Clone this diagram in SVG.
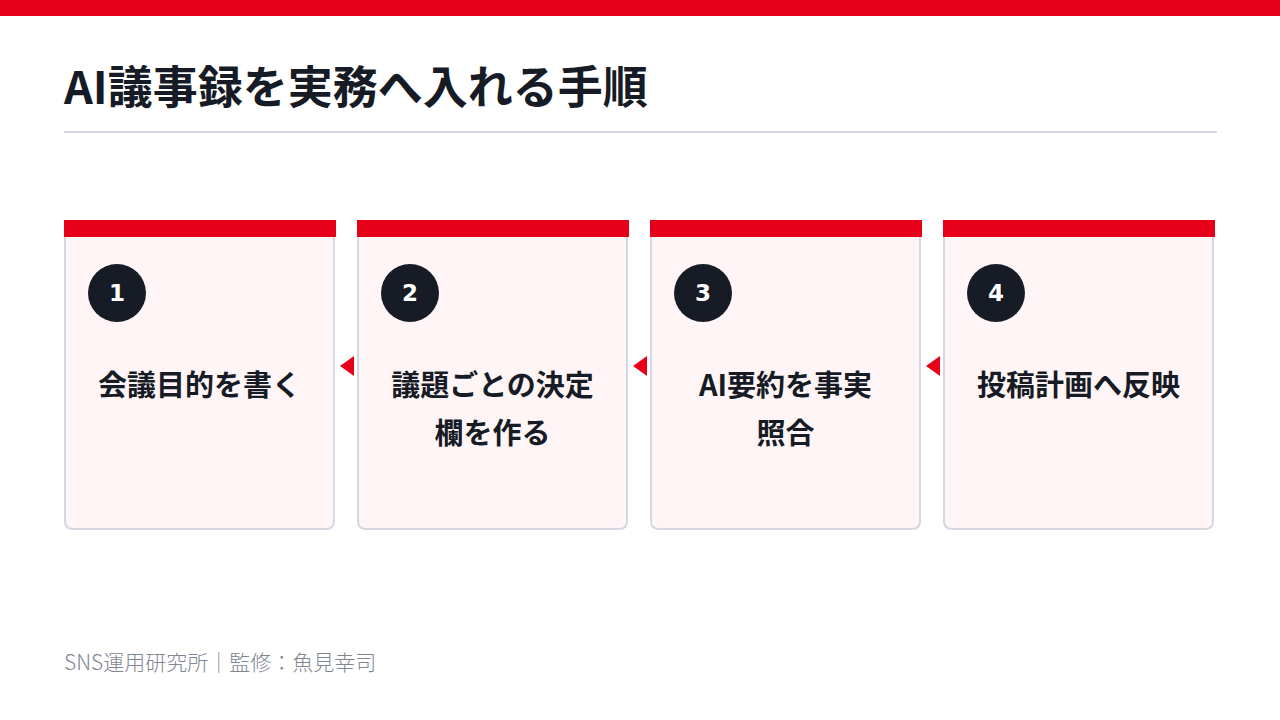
<svg xmlns="http://www.w3.org/2000/svg" width="1280" height="720" viewBox="0 0 1280 720">
<style>
.card{fill:#fff5f6;stroke:#d5d8e0;stroke-width:2}
.band{fill:#e60019}
.num{fill:#161b25}
.numt{font-family:"DejaVu Sans",sans-serif;font-weight:700;font-size:23px;fill:#ffffff;text-anchor:middle}
.lbl{font-family:"Noto Sans CJK JP",sans-serif;font-weight:700;font-size:29px;fill:#161b25;text-anchor:middle}
.arr{fill:#e60019}
</style>
<rect x="0" y="0" width="1280" height="720" fill="#ffffff"/>
<rect x="0" y="0" width="1280" height="16" fill="#e60019"/>
<text x="64" y="104" font-family="Noto Sans CJK JP, sans-serif" font-weight="700" font-size="45" fill="#161b25">AI議事録を実務へ入れる手順</text>
<rect x="64" y="131" width="1153" height="2" fill="#d5d8e0"/>
<g id="connectors">
<polygon class="arr" points="340,366 354,356 354,376"/>
<polygon class="arr" points="633,366 647,356 647,376"/>
<polygon class="arr" points="926,366 940,356 940,376"/>
</g>
<g id="step1">
<path class="card" d="M65,221 H334 V521 Q334,529 326,529 H73 Q65,529 65,521 Z"/>
<rect class="band" x="64" y="220" width="272" height="17"/>
<circle class="num" cx="117" cy="293" r="29"/>
<text class="numt" x="117" y="301">1</text>
<text class="lbl" x="199.5" y="396">会議目的を書く</text>
</g>
<g id="step2">
<path class="card" d="M358,221 H627 V521 Q627,529 619,529 H366 Q358,529 358,521 Z"/>
<rect class="band" x="357" y="220" width="272" height="17"/>
<circle class="num" cx="410" cy="293" r="29"/>
<text class="numt" x="410" y="301">2</text>
<text class="lbl" x="492.5" y="396">議題ごとの決定</text>
<text class="lbl" x="492.5" y="444">欄を作る</text>
</g>
<g id="step3">
<path class="card" d="M651,221 H920 V521 Q920,529 912,529 H659 Q651,529 651,521 Z"/>
<rect class="band" x="650" y="220" width="272" height="17"/>
<circle class="num" cx="703" cy="293" r="29"/>
<text class="numt" x="703" y="301">3</text>
<text class="lbl" x="785.5" y="396">AI要約を事実</text>
<text class="lbl" x="785.5" y="444">照合</text>
</g>
<g id="step4">
<path class="card" d="M944,221 H1213 V521 Q1213,529 1205,529 H952 Q944,529 944,521 Z"/>
<rect class="band" x="943" y="220" width="272" height="17"/>
<circle class="num" cx="996" cy="293" r="29"/>
<text class="numt" x="996" y="301">4</text>
<text class="lbl" x="1078.5" y="396">投稿計画へ反映</text>
</g>
<text x="64" y="670" font-family="Noto Sans CJK JP, sans-serif" font-weight="300" font-size="21" fill="#80868f">SNS運用研究所｜監修：魚見幸司</text>
</svg>
